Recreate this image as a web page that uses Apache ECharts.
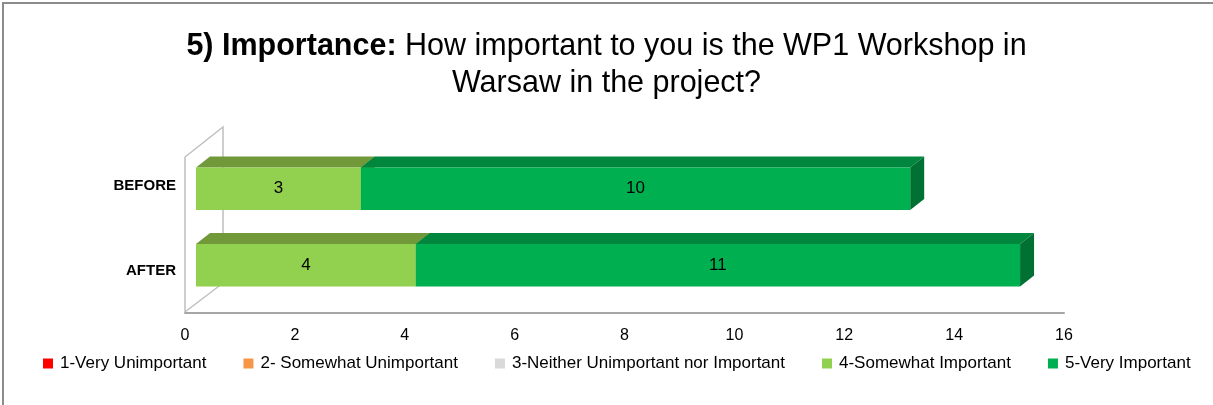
<!DOCTYPE html>
<html>
<head>
<meta charset="utf-8">
<script src="https://cdn.jsdelivr.net/npm/echarts@6/dist/echarts.min.js"></script>
<style>
  html, body { margin: 0; padding: 0; background: #fff; }
  #chart { width: 1213px; height: 405px; }
</style>
</head>
<body>
<div id="chart"></div>
<script>
  const categories = ['BEFORE', 'AFTER'];
  const seriesNames = [
    '1-Very Unimportant',
    '2- Somewhat Unimportant',
    '3-Neither Unimportant nor Important',
    '4-Somewhat Important',
    '5-Very Important',
  ];
  const veryUnimportant = [0, 0];
  const somewhatUnimportant = [0, 0];
  const neither = [0, 0];
  const somewhatImportant = [3, 4];
  const veryImportant = [10, 11];
  const xMin = 0;
  const xMax = 16;
  const xStep = 2;

  // front, top face, side face
  const palette = [
    ['#FF0000', '#C00000', '#A00000'],
    ['#F79646', '#C8742F', '#A65E22'],
    ['#D9D9D9', '#B0B0B0', '#999999'],
    ['#92D050', '#71993A', '#5E8030'],
    ['#00B050', '#00873D', '#007033'],
  ];

  const values = [veryUnimportant, somewhatUnimportant, neither, somewhatImportant, veryImportant];

  // fake 3d: bars sit a bit deeper than the floor edge
  const OX = 11;
  const OY = -1;
  const DEPTH_SCALE = 0.9;
  const DX = 14;
  const DY = -11;

  const renderBar = (colors) => (params, api) => {
    const v = api.value(3);
    if (!v) return null;
    const cat = api.value(2);
    const s = api.coord([api.value(0), cat]);
    const e = api.coord([api.value(1), cat]);
    const band = api.size([0, 1])[1];
    const h = band * 0.5;
    const midY = params.coordSys.y + params.coordSys.height / 2;
    const cy = midY + (s[1] - midY) * DEPTH_SCALE + OY;
    const x0 = s[0] + OX;
    const x1 = e[0] + OX;
    const top = cy - h / 2;
    const bot = cy + h / 2;
    return {
      type: 'group',
      children: [
        {
          type: 'polygon',
          shape: { points: [[x0, top], [x1, top], [x1 + DX, top + DY], [x0 + DX, top + DY]] },
          style: { fill: colors[1] },
        },
        {
          type: 'polygon',
          shape: { points: [[x1, top], [x1 + DX, top + DY], [x1 + DX, bot + DY], [x1, bot]] },
          style: { fill: colors[2] },
        },
        {
          type: 'rect',
          shape: { x: x0, y: top, width: x1 - x0, height: bot - top },
          style: { fill: colors[0] },
          textContent: {
            style: { text: String(v), fontSize: 17, fontFamily: 'Liberation Sans', fill: '#000' },
          },
          textConfig: { position: 'inside' },
        },
      ],
    };
  };

  const series = values.map((arr, i) => ({
    name: seriesNames[i],
    type: 'custom',
    itemStyle: { color: palette[i][0] },
    renderItem: renderBar(palette[i]),
    encode: { x: [0, 1], y: 2 },
    data: categories.map((c, j) => {
      let start = 0;
      for (let k = 0; k < i; k++) start += values[k][j];
      return [start, start + arr[j], j, arr[j]];
    }),
  }));

  const chart = echarts.init(document.getElementById('chart'));
  chart.setOption({
    animation: false,
    title: {
      text: '{b|5) Importance:} How important to you is the WP1 Workshop in\nWarsaw in the project?',
      left: 'center',
      top: 23,
      textStyle: {
        fontFamily: 'Liberation Sans',
        fontSize: 30.5,
        fontWeight: 'normal',
        color: '#000',
        lineHeight: 37,
        rich: {
          b: { fontFamily: 'Liberation Sans', fontSize: 30.5, fontWeight: 'bold', color: '#000' },
        },
      },
    },
    legend: {
      bottom: 28,
      left: 38,
      itemWidth: 10,
      itemHeight: 10,
      itemGap: 37,
      icon: 'rect',
      textStyle: { fontFamily: 'Liberation Sans', fontSize: 17, color: '#000', padding: [0, 0, 0, 2] },
      data: seriesNames,
    },
    grid: {
      left: 185,
      right: 149,
      top: 143,
      bottom: 92,
    },
    xAxis: {
      type: 'value',
      min: xMin,
      max: xMax,
      interval: xStep,
      axisLine: { show: true, lineStyle: { color: '#A6A6A6', width: 2 } },
      axisTick: { show: false },
      splitLine: { show: false },
      axisLabel: { fontFamily: 'Liberation Sans', fontSize: 16, color: '#000', margin: 15 },
    },
    yAxis: {
      type: 'category',
      data: categories,
      inverse: true,
      axisLine: { show: false },
      axisTick: { show: false },
      axisLabel: { fontFamily: 'Liberation Sans', fontSize: 15, fontWeight: 'bold', color: '#000', margin: 9 },
    },
    graphic: [
      {
        type: 'rect',
        shape: { x: 3, y: 3, width: 1300, height: 500 },
        style: { fill: 'none', stroke: '#8C8C8C', lineWidth: 2 },
        silent: true,
      },
      {
        type: 'polyline',
        shape: { points: [[185, 312], [185, 157], [223, 127], [223, 283], [185, 312]] },
        style: { fill: 'none', stroke: '#BFBFBF', lineWidth: 1.5 },
        silent: true,
      },
    ],
    series,
  });
</script>
</body>
</html>
